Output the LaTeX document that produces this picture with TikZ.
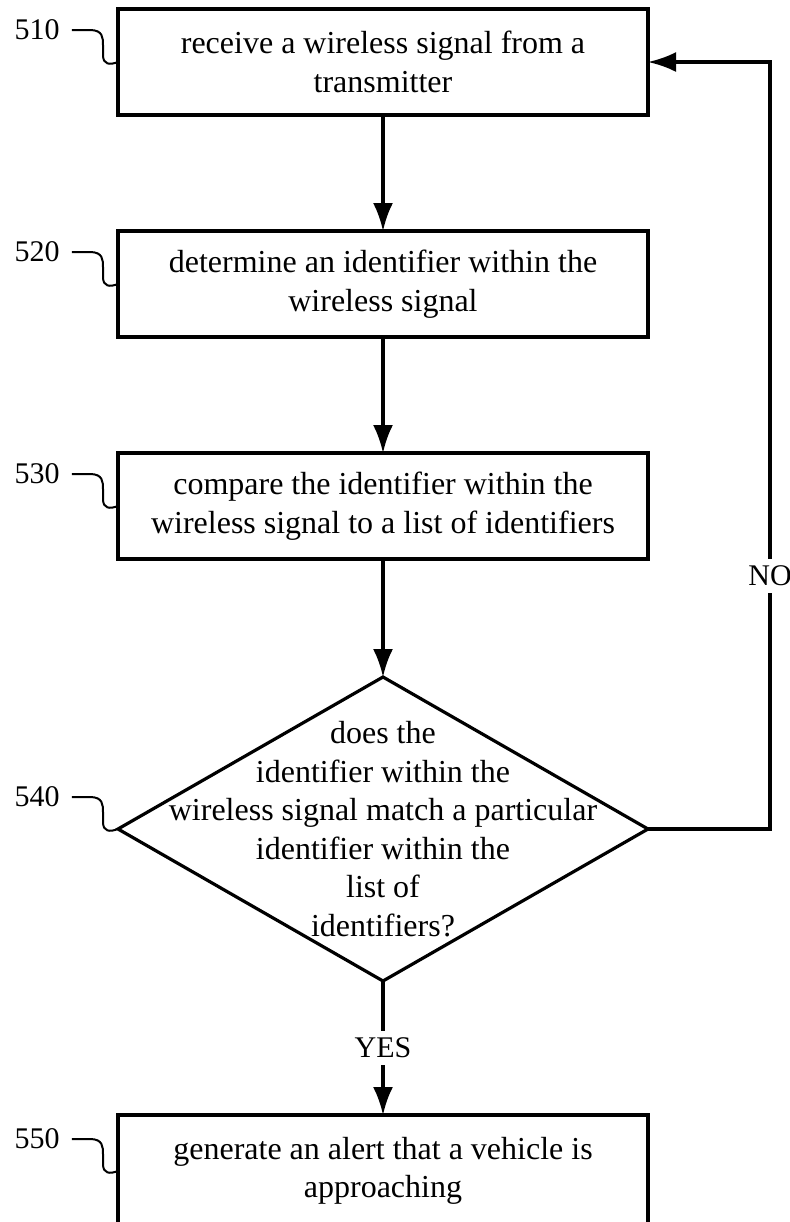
\documentclass[tikz,border=0pt]{standalone}
\usepackage{fontspec}
\setmainfont{Liberation Serif}
\usetikzlibrary{shapes.geometric, arrows.meta, positioning}

\begin{document}
\begin{tikzpicture}[x=0.5pt, y=-0.5pt, node distance=58pt,
  every node/.style={font=\fontsize{15}{15}\selectfont},
  stepbox/.style={rectangle, draw, line width=1.6pt, minimum width=265pt, minimum height=53pt, align=center, inner sep=0pt, outer sep=0pt, font=\fontsize{16}{19.25}\selectfont},
  decision/.style={diamond, draw, line width=1.6pt, minimum width=265pt, minimum height=152pt, inner sep=0pt, outer sep=0pt},
  arr/.style={-{Latex[length=14pt, width=10pt]}, line width=1.6pt},
  lbl/.style={fill=white},
  refnum/.style={inner sep=0pt},
  squig/.style={line width=1pt}]
\useasboundingbox (0,0) rectangle (789,1222);

\node[stepbox] (s510) at (383,62) {receive a wireless signal from a\\transmitter};
\node[stepbox, below=of s510] (s520) {determine an identifier within the\\wireless signal};
\node[stepbox, below=of s520] (s530) {compare the identifier within the\\wireless signal to a list of identifiers};
\node[decision, below=59pt of s530] (s540) {};
\node[align=center, font=\fontsize{16}{19.25}\selectfont] (q540) at (s540) {does the\\identifier within the\\wireless signal match a particular\\identifier within the\\list of\\identifiers?};
\node[stepbox, minimum height=56pt, below=67pt of s540] (s550) {generate an alert that a vehicle is\\approaching};

\draw[arr] (s510) -- (s520);
\draw[arr] (s520) -- (s530);
\draw[arr] (s530) -- (s540);
\draw[arr] (s540) -- node[lbl] {YES} (s550);
\coordinate (back) at (770,62);
\draw[arr] (s540.east) -| node[lbl, pos=0.665] {NO} (back) -- (s510.east);

% reference numerals
\foreach \n in {510,520,530,540,550} {
  \begin{scope}[shift={(s\n.west)}]
    \node[refnum] (n\n) at (-81,-32) {\n};
    \draw[squig] ([xshift=6pt]n\n.east) -- (-28,-32) .. controls (-15,-32) and (-15,-24) .. (-15,-17) -- (-15,-7) .. controls (-15,3) and (-8,3) .. (s\n.west);
  \end{scope}
}
\end{tikzpicture}
\end{document}
